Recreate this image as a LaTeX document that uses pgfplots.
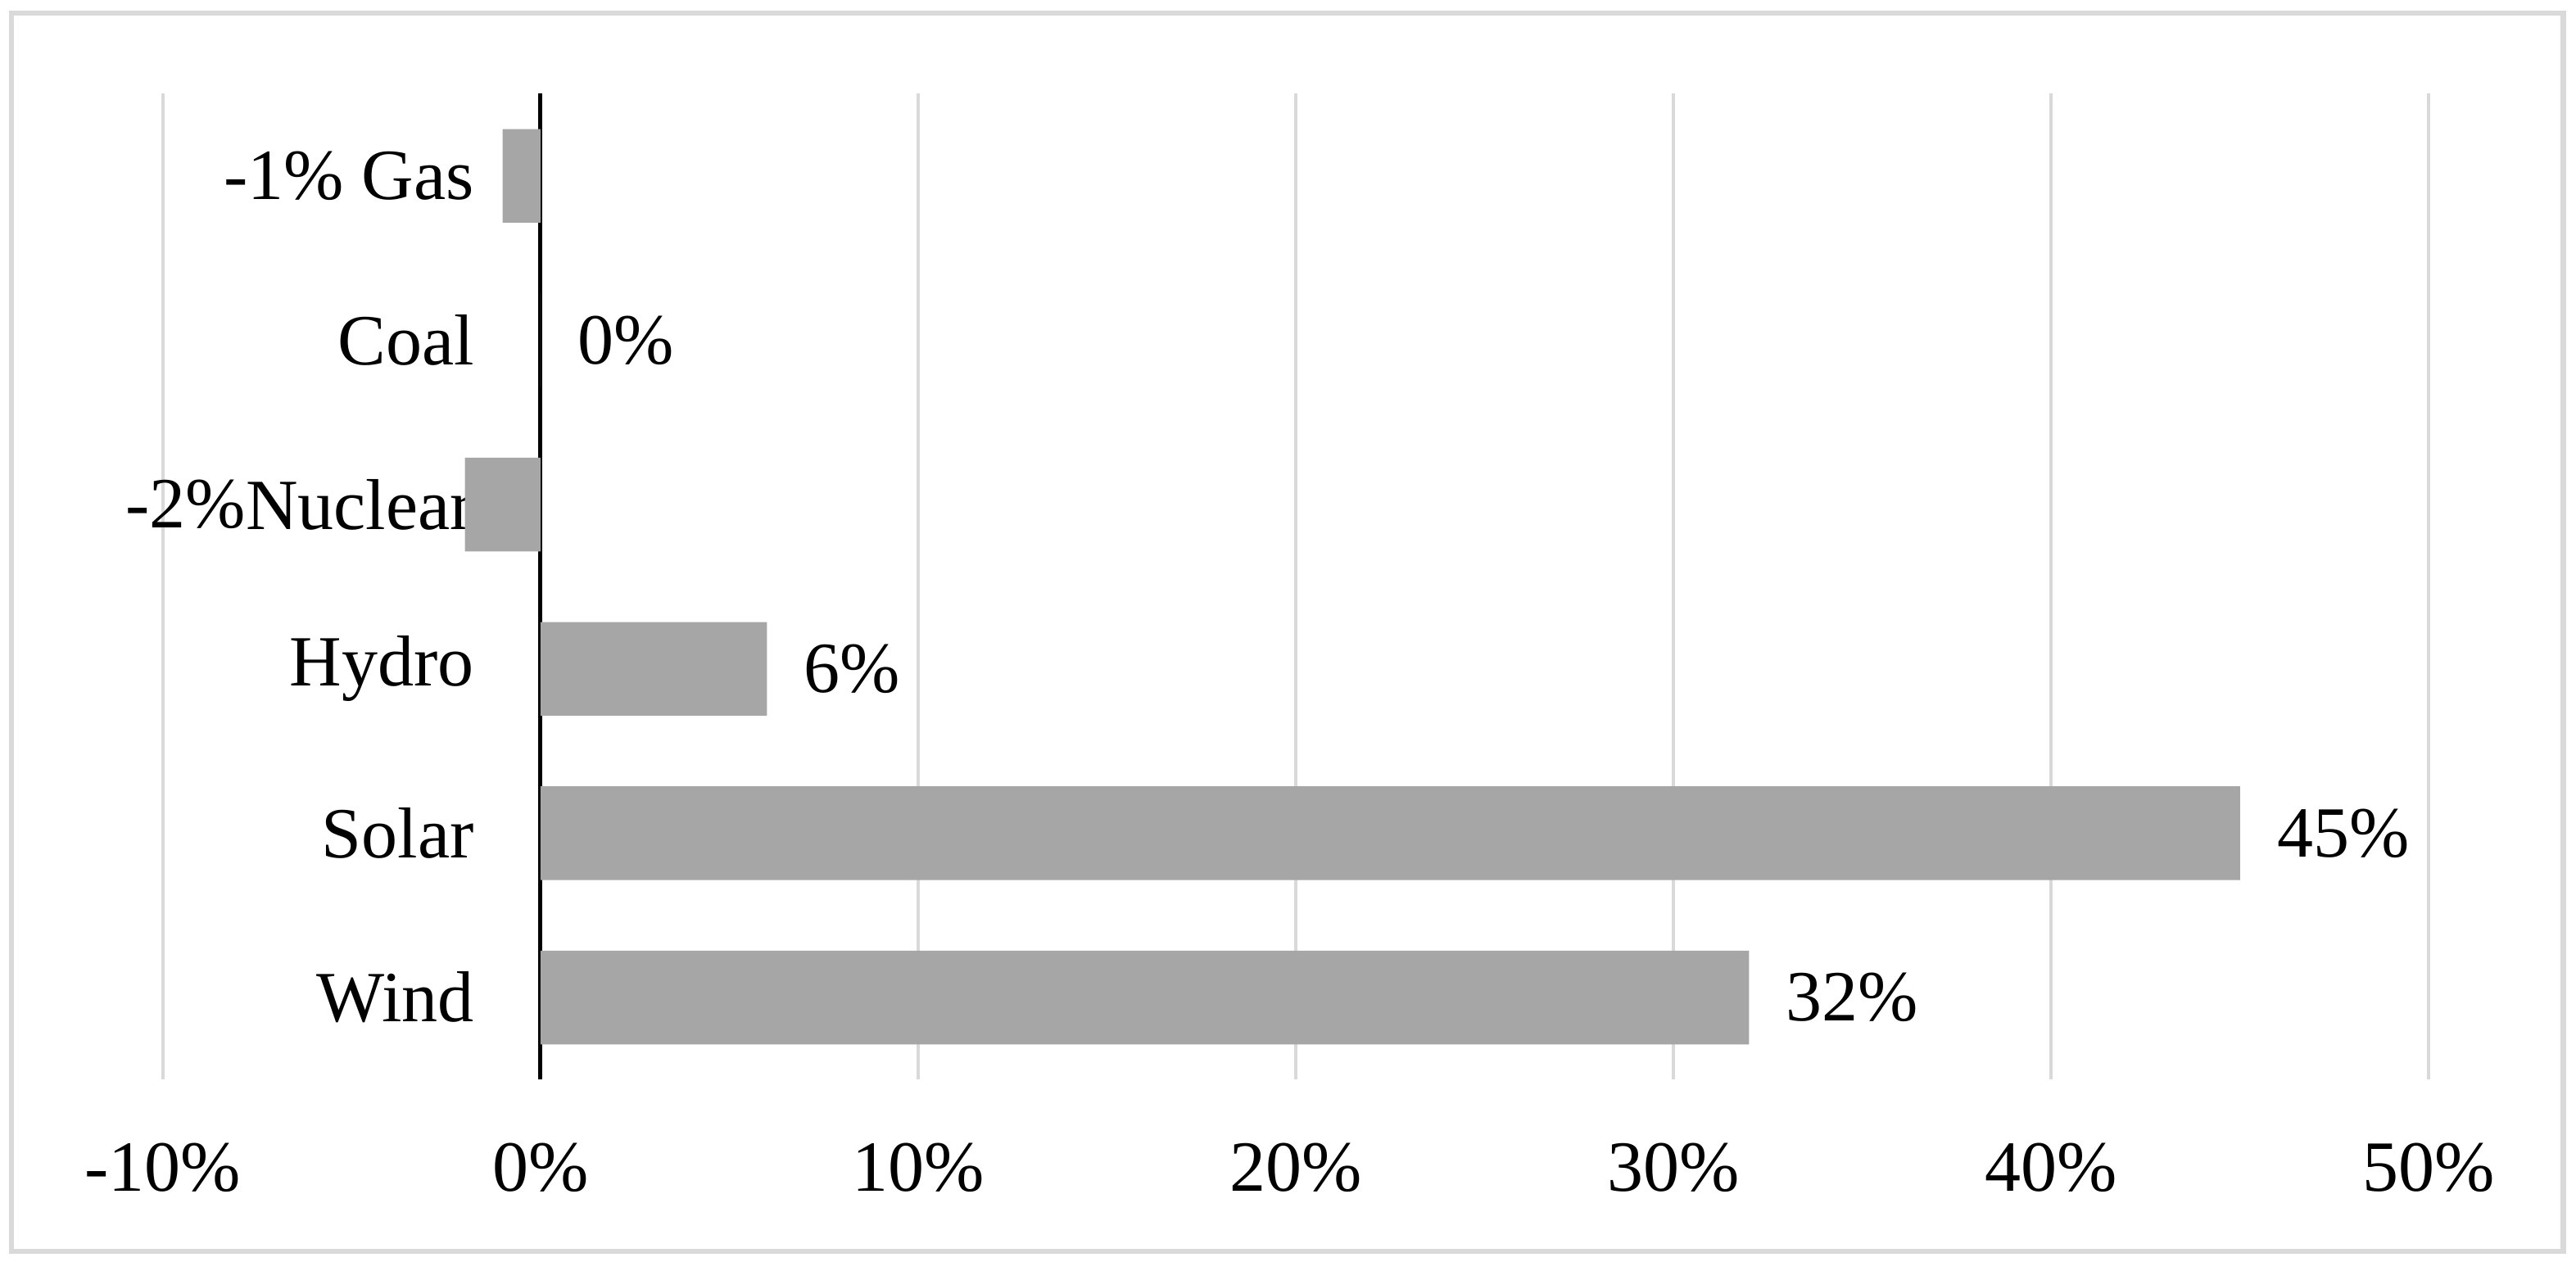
\documentclass[border=0pt,12pt]{standalone}
\usepackage{pgfplots}
\usepackage{pgfplotstable}
\pgfplotsset{compat=1.18}
\usepackage{fontspec}
\setmainfont{Liberation Serif}

\definecolor{barc}{HTML}{A6A6A6}
\definecolor{gridc}{HTML}{D9D9D9}

% change in generation share, bottom to top
\pgfplotstableread{
idx val dx
0 32 2
1 45 2
2 6 2
3 -2 -32.3
4 0 2
5 -1 -22.2
}\shares

\begin{document}
\begin{tikzpicture}
\begin{axis}[
    xbar,
    scale only axis,
    width=377.3pt, height=164.2pt,
    xmin=-10, xmax=50,
    ymin=-0.5, ymax=5.5,
    xtick={-10,0,10,20,30,40,50},
    xticklabels={-10\%,0\%,10\%,20\%,30\%,40\%,50\%},
    ytick={0,1,2,3,4,5},
    yticklabels={Wind,Solar,Hydro,Nuclear,Coal,Gas},
    major tick length=0pt,
    axis line style={draw=none},
    xmajorgrids,
    grid style={gridc, line width=0.55pt},
    extra x ticks={0},
    extra x tick labels={},
    extra x tick style={grid style={black, line width=0.7pt}},
    tick label style={font=\normalsize},
    xticklabel style={yshift=-6.4pt},
    yticklabel style={anchor=east, xshift=56pt},
    nodes near coords align={horizontal},
]
\addplot[fill=barc, draw=none, bar width=0.57,
    point meta=x,
    nodes near coords={\pgfmathprintnumber[assume math mode=true]{\pgfplotspointmeta}\%},
    visualization depends on={\thisrow{dx}\as\dx},
    every node near coord/.append style={font=\normalsize, xshift=\dx pt},
] table[x=val, y=idx]{\shares};
\end{axis}
\draw[gridc, line width=0.9pt] (-25.2pt,-28.6pt) rectangle (399.7pt,177.6pt);
\path (-27.1pt,-31.8pt) rectangle (401.8pt,179.8pt);
\end{tikzpicture}
\end{document}
